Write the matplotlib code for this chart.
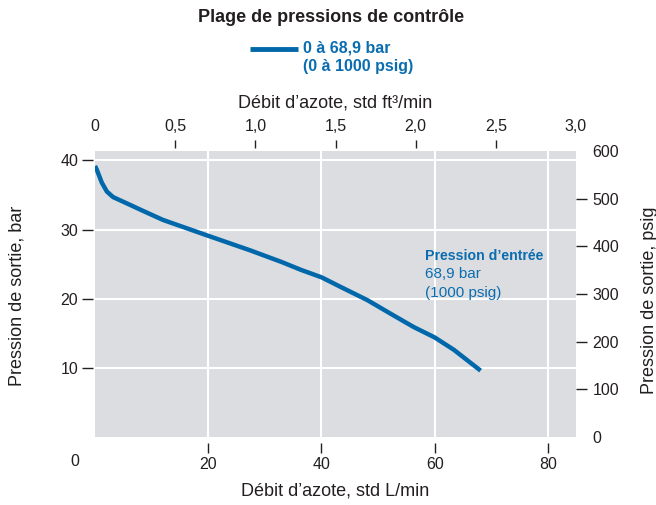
import matplotlib
matplotlib.use("Agg")
import matplotlib.pyplot as plt
from matplotlib import font_manager as fm

# Pick the regular-width Liberation Sans files explicitly (avoid Narrow variant)
def _find(weight_bold):
    for f in fm.fontManager.ttflist:
        if f.name == "Liberation Sans" and "Narrow" not in f.fname and f.style == "normal":
            isbold = (f.weight in ("bold", 700) or "Bold" in f.fname)
            if isbold == weight_bold:
                return f.fname
    return None

_reg = _find(False)
_bold = _find(True)

def fp(size, bold=False):
    path = _bold if bold else _reg
    if path:
        return fm.FontProperties(fname=path, size=size)
    return fm.FontProperties(family="DejaVu Sans", size=size, weight="bold" if bold else "normal")

# Data
flow_lpm = [0, 0.3, 1.2, 2.1, 3.2, 5.6, 8.5, 12, 20, 27.4, 33, 36.3, 40, 43.4, 48.1, 52.7, 56.3, 60, 63.4, 68.1]
outlet_bar = [39.2, 38.7, 36.8, 35.5, 34.7, 33.8, 32.7, 31.4, 29.1, 27.0, 25.3, 24.2, 23.1, 21.7, 19.8, 17.6, 15.9, 14.4, 12.6, 9.6]

title = "Plage de pressions de contrôle"
legend_lines = ["0 à 68,9 bar", "(0 à 1000 psig)"]
xlabel_bottom = "Débit d’azote, std L/min"
xlabel_top = "Débit d’azote, std ft³/min"
ylabel_left = "Pression de sortie, bar"
ylabel_right = "Pression de sortie, psig"
annot_lines = ["Pression d’entrée", "68,9 bar", "(1000 psig)"]

bottom_ticks = [20, 40, 60, 80]
left_ticks = [10, 20, 30, 40]
top_ticks = [0, 0.5, 1.0, 1.5, 2.0, 2.5, 3.0]
top_labels = ["0", "0,5", "1,0", "1,5", "2,0", "2,5", "3,0"]
right_ticks = [0, 100, 200, 300, 400, 500, 600]

LPM_PER_SCFM = 28.3168
PSI_PER_BAR = 14.5038

W, H = 656, 505
BG = "#dcdde0"
BLUE = "#0a6db0"
LINE = "#0068aa"
TXT = "#231f20"
TICK_FS = 11.5
LAB_FS = 13

fig = plt.figure(figsize=(W / 100, H / 100), dpi=100)
L, R, B, T = 95, 576, 437, 151
ax = fig.add_axes([L / W, 1 - B / H, (R - L) / W, (B - T) / H])
ax.set_facecolor(BG)

xmax = 3.0 * LPM_PER_SCFM
ymax = 600 / PSI_PER_BAR
ax.set_xlim(0, xmax)
ax.set_ylim(0, ymax)

for v in bottom_ticks:
    ax.axvline(v, color="white", lw=1.5, zorder=1)
for v in left_ticks:
    ax.axhline(v, color="white", lw=1.5, zorder=1)

ax.plot(flow_lpm, outlet_bar, color=LINE, lw=3.2, solid_capstyle="butt",
        solid_joinstyle="round", zorder=3)

for s in ax.spines.values():
    s.set_visible(False)
ax.spines['left'].set_position(('outward', 1.5))
ax.spines['bottom'].set_position(('outward', 4))

ax.set_xticks(bottom_ticks)
ax.set_xticklabels([str(v) for v in bottom_ticks], fontproperties=fp(TICK_FS))
ax.set_yticks(left_ticks)
ax.set_yticklabels([str(v) for v in left_ticks], fontproperties=fp(TICK_FS))
ax.tick_params(axis='x', direction='out', length=7, width=1, pad=3.5, colors=TXT)
ax.tick_params(axis='y', direction='out', length=8, width=1, pad=2.5, colors=TXT)

# corner zero label
fig.text(75 / W, 1 - 462 / H, "0", ha="center", va="center", fontproperties=fp(TICK_FS), color=TXT)

# right axis (psig)
axr = ax.twinx()
axr.set_ylim(0, 600)
for s in axr.spines.values():
    s.set_visible(False)
axr.set_yticks(right_ticks)
axr.set_yticklabels([str(v) for v in right_ticks], fontproperties=fp(TICK_FS))
axr.tick_params(axis='y', direction='out', length=8, width=1, pad=4, colors=TXT)
rt = axr.yaxis.get_major_ticks()
rt[0].tick2line.set_visible(False)
rt[-1].tick2line.set_visible(False)

# top axis (scfm)
axt = ax.twiny()
axt.set_xlim(0, 3.0)
for s in axt.spines.values():
    s.set_visible(False)
axt.spines['top'].set_position(('outward', 2))
axt.set_xticks(top_ticks)
axt.set_xticklabels(top_labels, fontproperties=fp(TICK_FS))
axt.tick_params(axis='x', direction='out', length=6, width=1, pad=4, colors=TXT)
tt = axt.xaxis.get_major_ticks()
tt[0].tick2line.set_visible(False)
tt[-1].tick2line.set_visible(False)

# Titles and labels
fig.text(331 / W, 1 - 17 / H, title, ha="center", va="center", fontproperties=fp(13, True), color=TXT)
fig.add_artist(plt.Line2D([250 / W, 298 / W], [1 - 49 / H, 1 - 49 / H], color=LINE, lw=3.5, solid_capstyle="butt"))
fig.text(303 / W, 1 - 48 / H, legend_lines[0], ha="left", va="center", fontproperties=fp(11.5, True), color=BLUE)
fig.text(303 / W, 1 - 67 / H, legend_lines[1], ha="left", va="center", fontproperties=fp(11.5, True), color=BLUE)

fig.text(335 / W, 1 - 103 / H, xlabel_top, ha="center", va="center", fontproperties=fp(LAB_FS), color=TXT)
fig.text(335 / W, 1 - 491 / H, xlabel_bottom, ha="center", va="center", fontproperties=fp(LAB_FS), color=TXT)
fig.text(17 / W, 1 - 296 / H, ylabel_left, ha="center", va="center", rotation=90, fontproperties=fp(LAB_FS), color=TXT)
fig.text(649 / W, 1 - 300 / H, ylabel_right, ha="center", va="center", rotation=90, fontproperties=fp(LAB_FS), color=TXT)

fig.text(425 / W, 1 - 256 / H, annot_lines[0], ha="left", va="center", fontproperties=fp(10.2, True), color=BLUE)
fig.text(425 / W, 1 - 274 / H, annot_lines[1], ha="left", va="center", fontproperties=fp(11), color=BLUE)
fig.text(425 / W, 1 - 293 / H, annot_lines[2], ha="left", va="center", fontproperties=fp(11), color=BLUE)

fig.savefig("out.png", dpi=100, facecolor="white")
